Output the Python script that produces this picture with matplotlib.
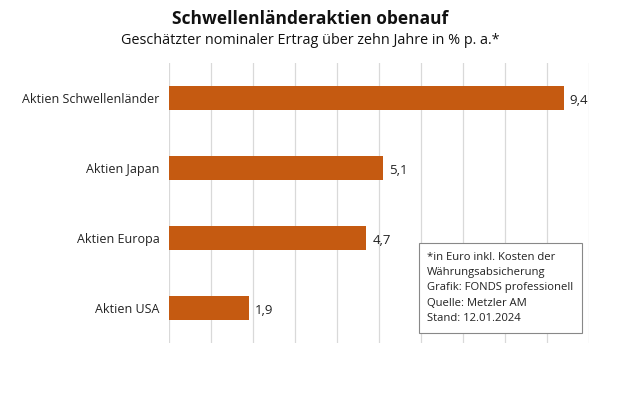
import matplotlib.pyplot as plt

plt.rcParams['font.family'] = ['Open Sans', 'DejaVu Sans']

# Data
categories = ["Aktien Schwellenländer", "Aktien Japan", "Aktien Europa", "Aktien USA"]
values = [9.4, 5.1, 4.7, 1.9]
value_labels = ["9,4", "5,1", "4,7", "1,9"]
note_lines = ["*in Euro inkl. Kosten der", "Währungsabsicherung",
              "Grafik: FONDS professionell", "Quelle: Metzler AM", "Stand: 12.01.2024"]

fig = plt.figure(figsize=(6.2, 4.13), dpi=100)
ax = fig.add_axes([0.2726, 0.1695, 0.6774, 0.678])

ypos = list(range(len(categories)))
ax.barh(ypos, values, height=0.33, color='#C55A11', zorder=3)
for y, v, lab in zip(ypos, values, value_labels):
    ax.text(v + 0.14, y + 0.03, lab, va='center', ha='left', fontsize=9.5, color='#222222')

ax.set_xlim(0, 10)
ax.set_ylim(3.5, -0.5)
ax.set_yticks(ypos)
ax.set_yticklabels(categories, fontsize=9, color='#222222')
ax.set_xticks(range(0, 11))
ax.tick_params(axis='x', labelbottom=False, length=0)
ax.tick_params(axis='y', length=0, pad=7)
ax.grid(axis='x', color='#D9D9D9', linewidth=0.9, zorder=0)
for s in ax.spines.values():
    s.set_visible(False)

# Title
fig.text(0.5, 0.955, "Schwellenländeraktien obenauf", ha='center', va='center',
         fontsize=12.5, fontweight='bold', color='#111111')
fig.text(0.5, 0.903, "Geschätzter nominaler Ertrag über zehn Jahre in % p. a.*",
         ha='center', va='center', fontsize=10.4, color='#111111')

# Note box
fig.text(0.689, 0.303, "\n".join(note_lines), ha='left', va='center', fontsize=8.1,
         linespacing=1.55, color='#222222',
         bbox=dict(boxstyle='square,pad=0.75', facecolor='white', edgecolor='#888888', linewidth=0.8))

plt.savefig("out.png", dpi=100)
